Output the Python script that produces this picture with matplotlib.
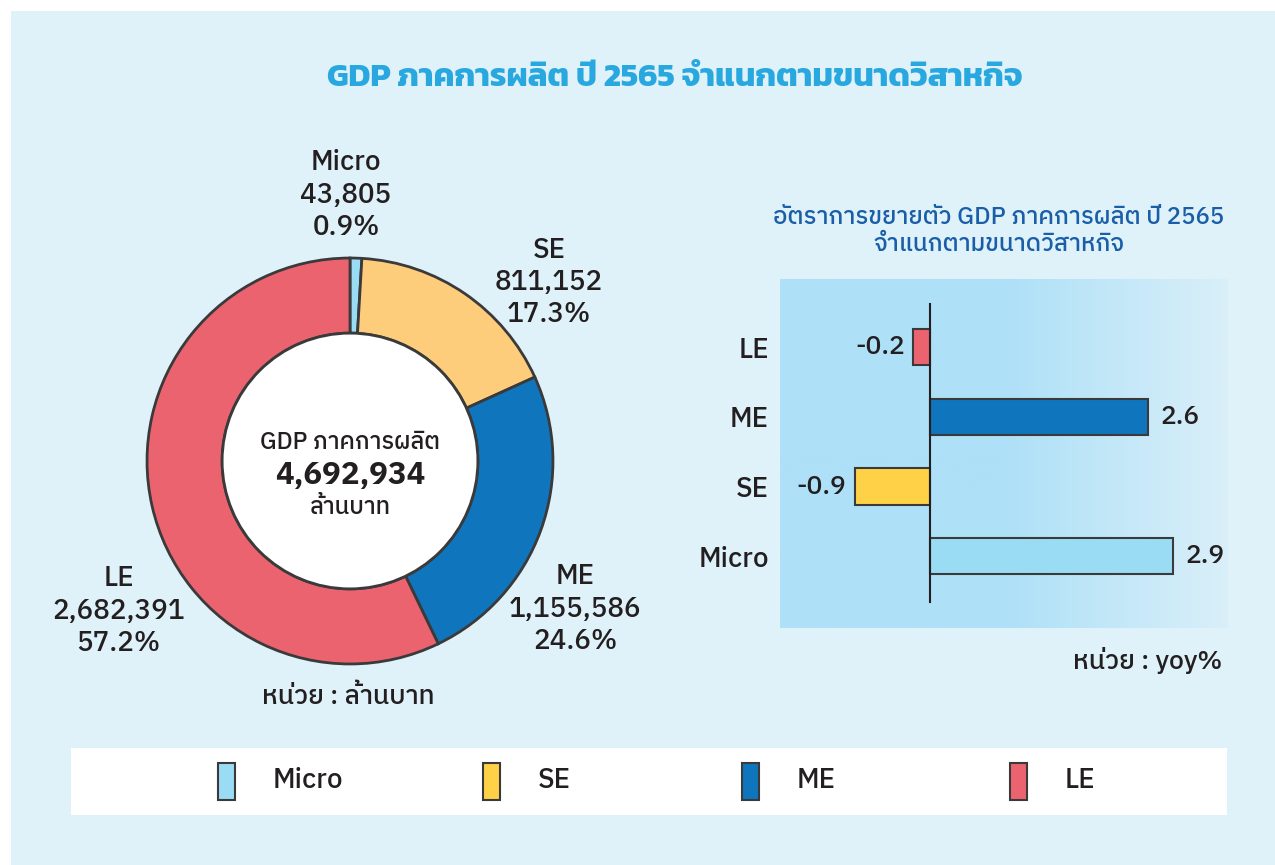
import matplotlib
matplotlib.use("Agg")
import matplotlib.pyplot as plt
from matplotlib.patches import Rectangle, Circle
from matplotlib.colors import LinearSegmentedColormap
import numpy as np

# ---- data ----
categories = ["Micro", "SE", "ME", "LE"]
gdp_values = [43805, 811152, 1155586, 2682391]
growth_values = [2.9, -0.9, 2.6, -0.2]
pie_colors = ["#9bdcf5", "#fecd7c", "#0f75bd", "#ec6370"]
bar_colors = ["#9bdcf5", "#ffd147", "#0f75bd", "#ec6370"]
title = "GDP ภาคการผลิต ปี 2565 จำแนกตามขนาดวิสาหกิจ"
subtitle = "อัตราการขยายตัว GDP ภาคการผลิต ปี 2565\nจำแนกตามขนาดวิสาหกิจ"
center_lines = ["GDP ภาคการผลิต", "ล้านบาท"]
unit_left = "หน่วย : ล้านบาท"
unit_right = "หน่วย : yoy%"

plt.rcParams['font.family'] = ["IBM Plex Sans Thai", "DejaVu Sans"]
plt.rcParams['font.weight'] = 500

W, H = 1275, 865
fig = plt.figure(figsize=(W / 100, H / 100), dpi=100)
fig.patch.set_facecolor("white")

def fx(px):
    return px / W

def fy(py):
    return 1 - py / H

fig.patches.append(Rectangle((fx(11), 0), 1 - fx(11), fy(11), transform=fig.transFigure,
                             facecolor="#dff2fa", edgecolor="none", zorder=-10))

txt = "#231f20"
fig.text(fx(675), fy(78), title, ha="center", va="center", fontsize=23.5,
         fontweight="bold", color="#29a8e0", family=["Kanit", "DejaVu Sans"])

# ---- donut ----
cx, cy, R = 350, 461, 205
axp = fig.add_axes([fx(cx - R), fy(cy + R), 2 * R / W, 2 * R / H])
axp.axis("off")
ring_w = 0.37
axp.pie(gdp_values, colors=pie_colors, startangle=90, counterclock=False, radius=1,
        wedgeprops=dict(width=ring_w, edgecolor="#3a3a3a", linewidth=2))
axp.add_patch(Circle((0, 0), 1 - ring_w, facecolor="white", edgecolor="#3a3a3a", lw=2, zorder=5))
axp.set_xlim(-1.01, 1.01)
axp.set_ylim(-1.01, 1.01)
total = sum(gdp_values)
label_pos = [(-0.02, 1.31), (0.98, 0.88), (1.11, -0.73), (-1.14, -0.74)]
for name, v, (lx, ly) in zip(categories, gdp_values, label_pos):
    axp.text(lx, ly, f"{name}\n{v:,}\n{100 * v / total:.1f}%", ha="center", va="center",
             fontsize=20, color=txt, linespacing=1.25, clip_on=False)
axp.text(0, 0.09, center_lines[0], ha="center", va="center", fontsize=17, color=txt, zorder=6)
axp.text(0, -0.07, f"{total:,}", ha="center", va="center", fontsize=22.5, fontweight="bold",
         color=txt, zorder=6)
axp.text(0, -0.23, center_lines[1], ha="center", va="center", fontsize=17, color=txt, zorder=6)
fig.text(fx(348), fy(697), unit_left, ha="center", va="center", fontsize=19, color=txt)

# ---- bar chart ----
fig.text(fx(999), fy(231), subtitle, ha="center", va="center", fontsize=17.3,
         color="#1a5ea8", linespacing=1.2)
ax = fig.add_axes([fx(780), fy(628), (1228 - 780) / W, (628 - 279) / H])
grad = np.linspace(0, 1, 256).reshape(1, -1)
cmap = LinearSegmentedColormap.from_list("g", ["#aee0f7", "#aee0f7", "#d9eff9"])
ax.imshow(grad, extent=[0, 1, 0, 1], transform=ax.transAxes, cmap=cmap, aspect="auto", zorder=0)
ypos = np.arange(len(categories))
ax.barh(ypos, growth_values, height=0.52, color=bar_colors, edgecolor="#3a3a3a", linewidth=1.5, zorder=2)
ax.set_xlim(-1.79, 3.55)
ax.set_ylim(-1.03, 3.98)
ax.plot([0, 0], [-0.66, 3.62], color="#231f20", lw=1.5, zorder=3)
for s in ax.spines.values():
    s.set_visible(False)
ax.set_xticks([])
ax.set_yticks(ypos)
ax.set_yticklabels(categories, fontsize=20, color=txt)
ax.tick_params(axis="y", length=0, pad=8)
for yv, v in zip(ypos, growth_values):
    if v < 0:
        ax.text(v - 0.1, yv, f"{v}", ha="right", va="center", fontsize=19, color=txt)
    else:
        ax.text(v + 0.14, yv, f"{v}", ha="left", va="center", fontsize=19, color=txt)
fig.text(fx(1222), fy(660), unit_right, ha="right", va="center", fontsize=19, color=txt)

# ---- legend ----
fig.patches.append(Rectangle((fx(71), fy(815)), (1227 - 71) / W, (815 - 748) / H,
                             transform=fig.transFigure, facecolor="white", edgecolor="none", zorder=-5))
leg_x = [218, 483, 742, 1010]
for x0, name, c in zip(leg_x, categories, bar_colors):
    fig.patches.append(Rectangle((fx(x0), fy(800)), 17 / W, 37 / H, transform=fig.transFigure,
                                 facecolor=c, edgecolor="#3a3a3a", lw=1.5, zorder=2))
    fig.text(fx(x0 + 55), fy(780), name, ha="left", va="center", fontsize=20, color=txt, zorder=3)

fig.savefig("out.png", dpi=100, facecolor=fig.get_facecolor())
